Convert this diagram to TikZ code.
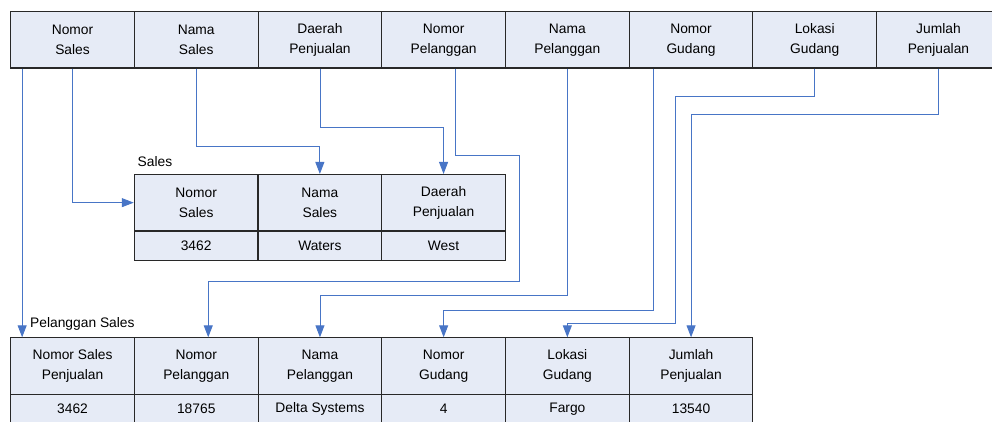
\documentclass[tikz,border=0pt]{standalone}
\usepackage{fontspec}
\setmainfont{Liberation Sans}
\usetikzlibrary{calc,arrows.meta}
\definecolor{cellfill}{RGB}{230,235,246}
\definecolor{cellline}{RGB}{40,40,40}
\definecolor{conncol}{RGB}{72,117,198}
\tikzset{
  cell/.style={draw=cellline, line width=1.1pt, fill=cellfill, minimum width=123.7pt,
    minimum height=56.3pt, inner sep=0pt, align=center,
    font=\fontsize{13.8}{20}\selectfont},
  valcell/.style={cell, minimum height=29.7pt},
  lbl/.style={anchor=west, inner sep=0pt, font=\fontsize{13.8}{20}\selectfont},
  conn/.style={draw=conncol, line width=0.9pt, -{Triangle[length=12pt,width=9pt]}},
  plain/.style={draw=conncol, line width=0.9pt}
}
\begin{document}
\begin{tikzpicture}[x=1pt,y=-1pt]
\useasboundingbox (0,0) rectangle (992,422);
\clip (0,0) rectangle (992,422);
\fill[white] (0,0) rectangle (992,422);
% top row
\node[cell] (t1) at (72.55,39.85) {Nomor\\Sales};
\node[cell] (t2) at (196.25,39.85) {Nama\\Sales};
\node[cell] (t3) at (319.95,39.85) {Daerah\\Penjualan};
\node[cell] (t4) at (443.65,39.85) {Nomor\\Pelanggan};
\node[cell] (t5) at (567.35,39.85) {Nama\\Pelanggan};
\node[cell] (t6) at (691.05,39.85) {Nomor\\Gudang};
\node[cell] (t7) at (814.75,39.85) {Lokasi\\Gudang};
\node[cell] (t8) at (938.45,39.85) {Jumlah\\Penjualan};
% Sales table
\node[lbl] (lsales) at (137.5,161.7) {Sales};
\node[cell] (s1) at (196.15,202.65) {Nomor\\Sales};
\node[cell] (s2) at (319.85,202.65) {Nama\\Sales};
\node[cell] (s3) at (443.55,202.65) {Daerah\\Penjualan};
\node[valcell] (sv1) at (196.15,245.85) {3462};
\node[valcell] (sv2) at (319.85,245.85) {Waters};
\node[valcell] (sv3) at (443.55,245.85) {West};
% Pelanggan Sales table
\node[lbl] (lpel) at (30,324) {Pelanggan Sales};
\node[cell] (b1) at (72.55,366) {Nomor Sales\\Penjualan};
\node[cell] (b2) at (196.25,366) {Nomor\\Pelanggan};
\node[cell] (b3) at (319.95,366) {Nama\\Pelanggan};
\node[cell] (b4) at (443.65,366) {Nomor\\Gudang};
\node[cell] (b5) at (567.35,366) {Lokasi\\Gudang};
\node[cell] (b6) at (691.05,366) {Jumlah\\Penjualan};
\node[valcell] (bv1) at (72.55,409.15) {3462};
\node[valcell] (bv2) at (196.25,409.15) {18765};
\node[valcell] (bv3) at (319.95,409.15) {Delta Systems};
\node[valcell] (bv4) at (443.65,409.15) {4};
\node[valcell] (bv5) at (567.35,409.15) {Fargo};
\node[valcell] (bv6) at (691.05,409.15) {13540};
% lane coordinates
\coordinate (l2) at (0,146.7);
\coordinate (l3) at (0,127.7);
\coordinate (c5a) at (519,155.5);
\coordinate (c5b) at (519,281.7);
\coordinate (l6) at (0,295);
\coordinate (l7) at (0,310);
\coordinate (c8a) at (675,96);
\coordinate (c8b) at (675,323.3);
\coordinate (l9) at (0,114.3);
\coordinate (p1) at ($(t1.south west)+(12,0)$);
\coordinate (q1) at ($(b1.north west)+(12,0)$);
\coordinate (p5) at ($(t4.south)+(12,0)$);
\coordinate (q5) at ($(b2.north)+(12,0)$);
\coordinate (p7) at ($(t6.south)+(-37.5,0)$);
% connectors
\draw[conn] (p1) -- (q1);
\draw[conn] (t1.south) |- (s1.west);
\draw[conn] (t2.south) -- (t2.south |- l2) -| (s2.north);
\draw[conn] (t3.south) -- (t3.south |- l3) -| (s3.north);
\draw[conn] (p5) |- (c5a) -- (c5b) -| (q5);
\draw[conn] (t5.south) -- (t5.south |- l6) -| (b3.north);
\draw[conn] (p7) -- (p7 |- l7) -| (b4.north);
\draw[conn] (t7.south) |- (c8a) -- (c8b) -| (b5.north);
\draw[conn] (t8.south) -- (t8.south |- l9) -| (b6.north);
\end{tikzpicture}
\end{document}
